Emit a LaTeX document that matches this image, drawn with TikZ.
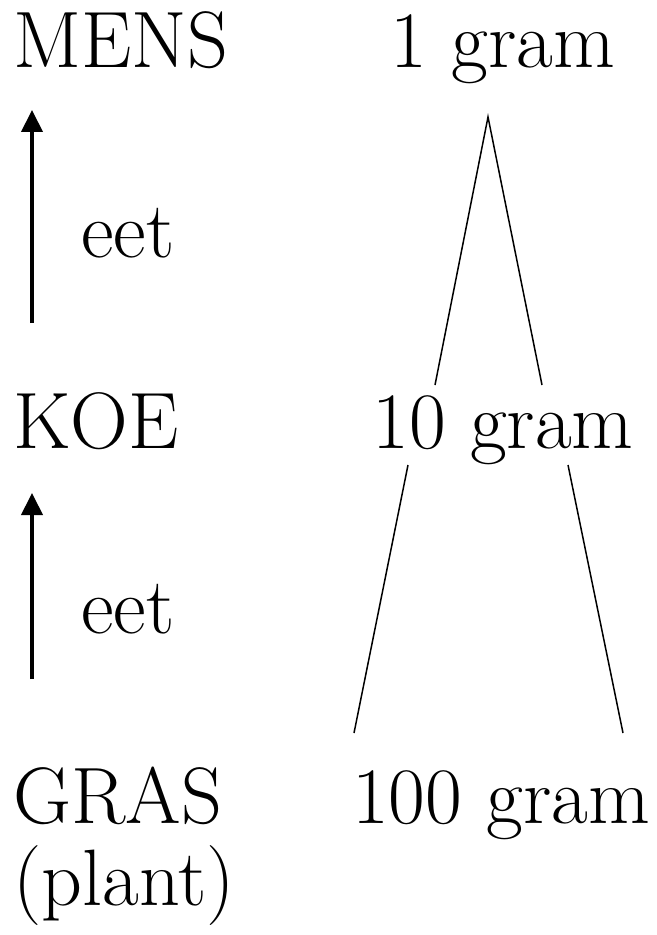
\documentclass[tikz,border=0pt]{standalone}
\usepackage{fontspec}
\setmainfont{Latin Modern Roman}
\usetikzlibrary{arrows.meta,positioning}

\tikzset{
  lbl/.style={inner sep=0pt, anchor=base west, font=\rmfamily\fontsize{40}{48}\selectfont},
  amount/.style={inner sep=0pt, anchor=base, font=\rmfamily\fontsize{40}{48}\selectfont},
  eats/.style={line width=2pt, -{Triangle[length=11pt,width=10.5pt]}},
  side/.style={line width=0.75pt}
}

\begin{document}
\begin{tikzpicture}[x=0.5pt,y=-0.5pt]
    \useasboundingbox (0,0) rectangle (657,935);

    % Levels of the food chain
    \node[lbl] (mens) at (13,68) {MENS};
    \node[lbl] (koe) at (13,448) {KOE};
    \node[lbl] (gras) at (13,823) {GRAS};
    \node[lbl] (plant) at (13,905) {(plant)};

    % Amounts
    \node[amount] (g1) at (503,68) {1 gram};
    \node[amount] (g10) at (503,448) {10 gram};
    \node[amount] (g100) at (501,823) {100 gram};

    % Arrows: who eats whom
    \coordinate (koeup) at (32,323);
    \coordinate (mensdown) at (32,110);
    \coordinate (grasup) at (32,679);
    \coordinate (koedown) at (32,493);
    \draw[eats] (koeup) -- (mensdown);
    \draw[eats] (grasup) -- (koedown);
    \node[lbl] (eet1) at (81,258) {eet};
    \node[lbl] (eet2) at (81,633) {eet};

    % Pyramid sides
    \coordinate (top) at (488,117);
    \coordinate (l1) at (435,385);
    \coordinate (r1) at (542,385);
    \coordinate (l2) at (408,465);
    \coordinate (r2) at (568,465);
    \coordinate (l3) at (354,733);
    \coordinate (r3) at (623,733);
    \draw[side] (l1) -- (top) -- (r1);
    \draw[side] (l2) -- (l3);
    \draw[side] (r2) -- (r3);
\end{tikzpicture}
\end{document}
